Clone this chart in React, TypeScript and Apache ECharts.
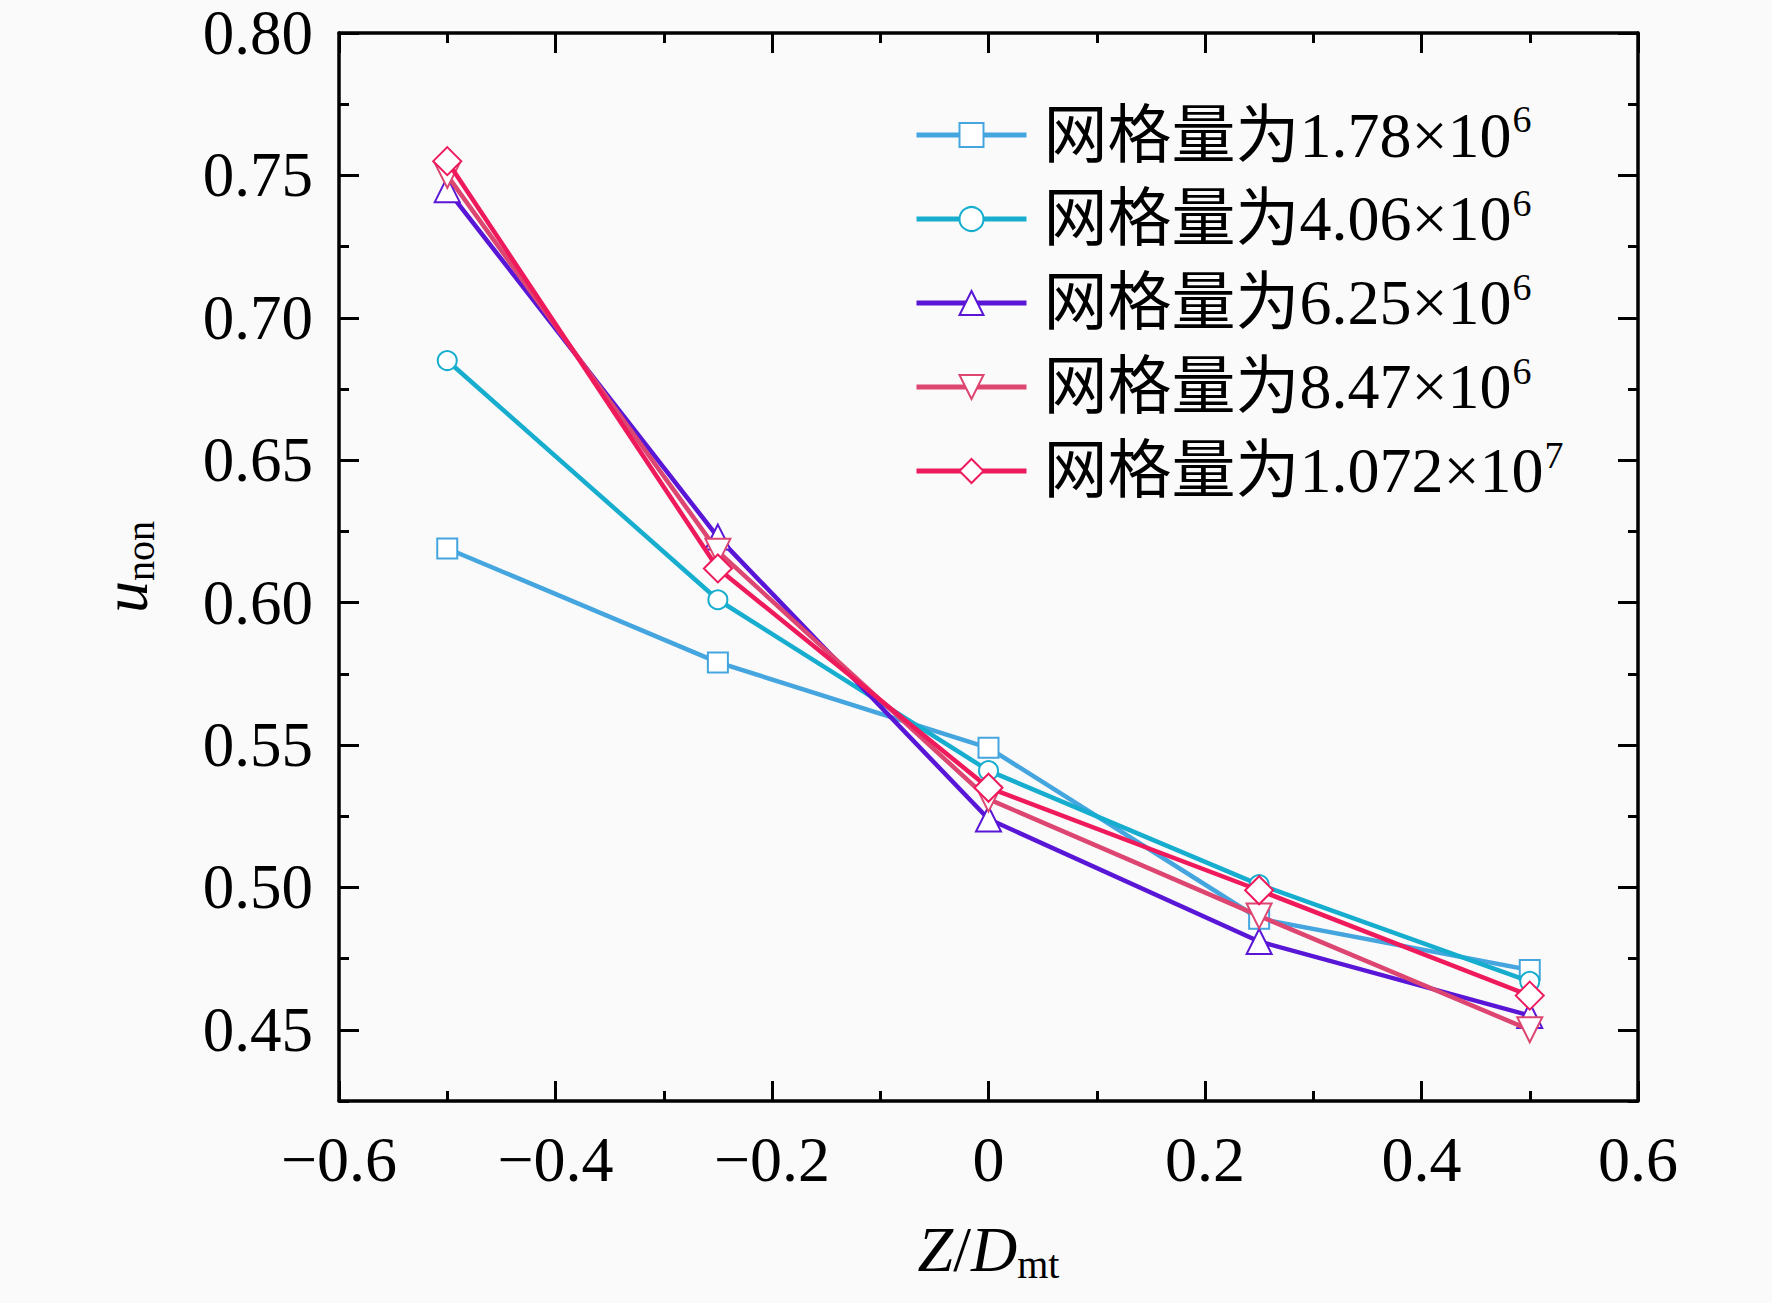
import React, { useEffect, useRef } from 'react';
import * as echarts from 'echarts';

// ---- data ----
const zValues = [-0.5, -0.25, 0, 0.25, 0.5];
const seriesBaseNames = ['网格量为1.78×10', '网格量为4.06×10', '网格量为6.25×10', '网格量为8.47×10', '网格量为1.072×10'];
const seriesExponents = ['6', '6', '6', '6', '7'];
const mesh178 = [0.619, 0.579, 0.549, 0.489, 0.471];
const mesh406 = [0.685, 0.601, 0.541, 0.501, 0.467];
const mesh625 = [0.745, 0.623, 0.524, 0.481, 0.455];
const mesh847 = [0.750, 0.618, 0.531, 0.490, 0.450];
const mesh1072 = [0.755, 0.612, 0.535, 0.499, 0.462];
const yMajorTicks = [0.45, 0.5, 0.55, 0.6, 0.65, 0.7, 0.75, 0.8];

const seriesValues = [mesh178, mesh406, mesh625, mesh847, mesh1072];
const seriesColors = ['#45A5DF', '#17ADCF', '#5A16D6', '#DC4670', '#EE1A5C'];
const seriesSymbols = ['emptyRect', 'emptyCircle', 'emptyTriangle', 'emptyTriangle', 'emptyDiamond'];
const seriesRotate = [0, 0, 0, 180, 0];
const seriesSymbolSize = [20, 19, 25, 25, 28];

const FONT = '"Liberation Serif", "Times New Roman", "Noto Sans CJK SC", serif';
const CJK_FONT = '"Liberation Serif", "Noto Sans CJK SC", serif';

export default function App() {
  const ref = useRef<HTMLDivElement>(null);

  useEffect(() => {
    document.body.style.margin = '0';
    document.body.style.background = '#fafafa';
    if (!ref.current) return;
    const chart = echarts.init(ref.current, undefined, { renderer: 'svg' });

    const axisLine = { show: true, onZero: false, lineStyle: { color: '#000', width: 3.5 } };
    const noLine = { show: false, onZero: false };
    const xFormatter = (v: number) => {
      if (Math.abs(v) < 1e-9) return '0';
      return v.toFixed(1).replace('-', '\u2212');
    };

    const baseX = {
      type: 'value',
      min: -0.6,
      max: 0.6,
      interval: 0.2,
      axisLine,
      axisTick: { show: true, inside: true, length: 20, lineStyle: { color: '#000', width: 3 } },
      minorTick: { show: true, splitNumber: 2, length: 10, lineStyle: { color: '#000', width: 3 } },
      splitLine: { show: false },
      minorSplitLine: { show: false },
    };

    const baseY = {
      type: 'value',
      min: 0.425,
      max: 0.8,
      interval: 0.025,
      splitLine: { show: false },
    };

    const option: any = {
      animation: false,
      backgroundColor: '#fafafa',
      grid: { left: 339, right: 134, top: 33, bottom: 202, containLabel: false },
      legend: {
        orient: 'vertical',
        left: 909,
        top: 95,
        itemWidth: 110,
        itemHeight: 30,
        itemGap: 17,
        align: 'left',
        lineStyle: { width: 5 },
        data: seriesBaseNames,
        formatter: (name: string) => {
          const i = seriesBaseNames.indexOf(name);
          return `{b|${name}}{s|${seriesExponents[i]}}`;
        },
        textStyle: {
          color: '#000',
          fontFamily: CJK_FONT,
          fontSize: 64,
          rich: {
            b: { fontSize: 64, fontFamily: CJK_FONT, lineHeight: 70, color: '#000', padding: [0, 0, 0, 12] },
            s: { fontSize: 38, fontFamily: FONT, lineHeight: 40, verticalAlign: 'top', color: '#000', padding: [0, 0, 0, 1] },
          },
        },
      },
      xAxis: [
        {
          ...baseX,
          position: 'bottom',
          axisLabel: {
            show: true,
            color: '#000',
            fontFamily: FONT,
            fontSize: 64,
            lineHeight: 56,
            margin: 30,
            formatter: xFormatter,
          },
          name: '{i|Z}{r|/}{i|D}{s|mt}',
          nameLocation: 'middle',
          nameGap: 113,
          nameTextStyle: {
            color: '#000',
            fontFamily: FONT,
            fontSize: 64,
            rich: {
              i: { fontSize: 64, fontStyle: 'italic', fontFamily: FONT, lineHeight: 70, color: '#000' },
              r: { fontSize: 64, fontFamily: FONT, lineHeight: 70, color: '#000' },
              s: { fontSize: 40, fontFamily: FONT, lineHeight: 26, verticalAlign: 'bottom', color: '#000' },
            },
          },
        },
        {
          ...baseX,
          position: 'top',
          axisLabel: { show: false },
        },
      ],
      yAxis: [
        {
          ...baseY,
          position: 'left',
          axisLine,
          axisTick: { show: true, inside: true, length: 20, customValues: yMajorTicks, lineStyle: { color: '#000', width: 3 } },
          axisLabel: {
            show: true,
            customValues: yMajorTicks,
            color: '#000',
            fontFamily: FONT,
            fontSize: 63,
            lineHeight: 44,
            margin: 26,
            formatter: (v: number) => v.toFixed(2),
          },
          name: '{i|u}{s|non}',
          nameLocation: 'middle',
          nameGap: 179,
          nameTextStyle: {
            color: '#000',
            fontFamily: FONT,
            fontSize: 64,
            rich: {
              i: { fontSize: 64, fontStyle: 'italic', fontFamily: FONT, lineHeight: 70, color: '#000' },
              s: { fontSize: 40, fontFamily: FONT, lineHeight: 26, verticalAlign: 'bottom', color: '#000' },
            },
          },
        },
        {
          ...baseY,
          position: 'right',
          axisLine,
          axisTick: { show: true, inside: true, length: 20, customValues: yMajorTicks, lineStyle: { color: '#000', width: 3 } },
          axisLabel: { show: false },
        },
        {
          ...baseY,
          position: 'left',
          axisLine: noLine,
          axisTick: { show: true, inside: true, length: 10, lineStyle: { color: '#000', width: 3 } },
          axisLabel: { show: false },
        },
        {
          ...baseY,
          position: 'right',
          axisLine: noLine,
          axisTick: { show: true, inside: true, length: 10, lineStyle: { color: '#000', width: 3 } },
          axisLabel: { show: false },
        },
      ],
      series: seriesBaseNames.map((name, i) => ({
        name,
        type: 'line',
        xAxisIndex: 0,
        yAxisIndex: 0,
        data: zValues.map((z, k) => [z, seriesValues[i][k]]),
        symbol: seriesSymbols[i],
        symbolRotate: seriesRotate[i],
        symbolSize: seriesSymbolSize[i],
        showAllSymbol: true,
        color: seriesColors[i],
        lineStyle: { color: seriesColors[i], width: 4.5 },
        itemStyle: { color: seriesColors[i], borderColor: seriesColors[i], borderWidth: 3 },
        z: 2 + i,
      })),
    };
    chart.setOption(option);
    return () => chart.dispose();
  }, []);

  return <div ref={ref} style={{ width: 1772, height: 1303 }} />;
}
